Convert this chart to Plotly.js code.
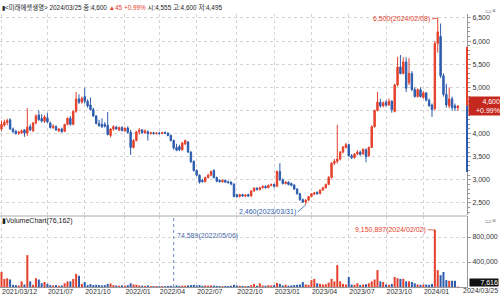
<!DOCTYPE html>
<html><head><meta charset="utf-8">
<script src="https://cdn.plot.ly/plotly-3.0.1.min.js"></script>
<style>html,body{margin:0;padding:0;background:#fff;}#chart{width:500px;height:297px;}</style>
</head><body><div id="chart"></div>
<script>
// weekly candles 2021/03/12 ... 2024/03/25
const openP = [4100,4180,4240,4300,4100,4050,4010,4020,4080,4010,4150,4060,4230,4400,4330,4270,4340,4230,4130,4150,
4060,4100,4050,4200,4330,4200,4480,4750,4680,4800,4700,4620,4520,4380,4220,4200,4200,4180,3960,4100,
4140,4080,4130,4060,4120,4030,3700,3850,4040,4080,4020,4040,4000,4020,4000,4010,4000,4020,4010,3960,
3850,3700,3720,3650,3780,3820,3600,3400,3200,3100,2990,2960,3050,3100,3200,3050,2990,2960,2990,2960,
2950,2910,2680,2640,2680,2650,2680,2650,2760,2820,2790,2830,2860,2830,2880,2900,2860,3180,3000,2920,
2950,2920,2890,2800,2700,2570,2520,2560,2640,2690,2730,2700,2780,2830,2900,3050,3360,3400,3450,3600,
3700,3760,3520,3480,3560,3600,3560,3650,3520,3700,4150,4500,4680,4600,4680,4620,4700,4480,5050,5440,
5300,5550,5100,5300,4950,4800,4950,4780,4880,4720,4620,4540,5950,6100,5250,4850,4600,4750,4600,4555];
const highP = [4280,4300,4320,4330,4130,4080,4060,4090,4100,4550,4200,4250,4420,4500,4420,4400,4450,4260,4200,4180,
4120,4130,4210,4350,4380,4500,4900,4850,4800,4990,4740,4780,4560,4400,4300,4330,4250,4470,4120,4180,
4170,4150,4160,4130,4160,4080,3880,4060,4120,4100,4090,4070,4040,4040,4030,4040,4040,4050,4030,3980,
3870,3780,3760,3820,3870,3840,3620,3420,3230,3120,3020,3070,3130,3200,3230,3070,3010,3010,3000,2980,
2970,2920,2700,2700,2700,2690,2700,2780,2840,2840,2850,2880,2880,2900,2920,2920,3200,3360,3030,2970,
2970,2940,2900,2820,2720,2600,2580,2650,2710,2740,2750,2790,2850,2920,3080,3380,3450,4190,3620,3730,
3800,3780,3560,3580,3640,3630,3680,3680,3720,4180,4520,4900,4750,4700,4720,4760,4720,5080,5660,5700,
5650,5650,5630,5350,5000,4980,5000,4920,4900,4760,4650,6000,6500,6380,5300,5080,5000,4800,4650,4600];
const lowP = [4050,4150,4180,4080,4020,3980,3970,3990,3930,3950,4050,4040,4200,4280,4240,4230,4230,4110,4100,4060,
4030,4020,4030,4180,4170,4180,4450,4640,4650,4650,4560,4500,4360,4200,4150,4120,4130,3960,3920,4060,
4080,4050,4060,4040,4000,3540,3680,3830,3980,3990,4000,3850,3980,3980,3980,3980,3990,3990,3940,3830,
3650,3620,3620,3630,3750,3580,3370,3180,3080,2920,2940,2950,3030,3080,3030,2950,2940,2940,2930,2920,
2880,2620,2610,2620,2630,2620,2630,2640,2740,2770,2770,2810,2810,2820,2860,2830,2850,2980,2900,2900,
2880,2860,2780,2680,2550,2500,2460,2540,2620,2670,2680,2690,2760,2810,2890,3030,3320,3350,3420,3570,
3680,3500,3450,3460,3530,3520,3540,3380,3500,3690,4130,4480,4560,4570,4580,4600,4450,4460,5020,5280,
5280,4900,5050,4920,4780,4780,4780,4760,4700,4580,4360,4500,5750,5200,4800,4560,4550,4500,4490,4495];
const closeP = [4200,4250,4280,4100,4040,4000,4030,4060,4010,4140,4080,4230,4380,4300,4270,4360,4250,4130,4160,4080,
4100,4040,4200,4330,4200,4480,4750,4680,4760,4700,4600,4520,4380,4220,4170,4150,4160,3980,4100,4150,
4100,4130,4060,4120,4030,3700,3850,4040,4080,4020,4060,4000,4020,4000,4010,4000,4020,4010,3960,3850,
3690,3640,3650,3800,3850,3600,3390,3200,3100,2950,2960,3050,3100,3180,3050,2970,2960,2990,2950,2940,
2910,2640,2640,2680,2650,2670,2650,2760,2820,2790,2830,2860,2830,2880,2900,2860,3180,3000,2920,2950,
2900,2880,2800,2700,2570,2520,2560,2640,2700,2720,2700,2780,2830,2900,3050,3360,3400,3450,3600,3710,
3760,3520,3480,3560,3600,3550,3660,3500,3700,4150,4500,4680,4600,4660,4620,4700,4520,5050,5440,5300,
5550,4980,5300,4950,4800,4950,4800,4880,4720,4600,4520,5950,6200,5250,4850,4620,4750,4560,4555,4600];
const volume = [2400000,1300000,1400000,1200000,350000,300000,250000,900000,400000,5100000,
900000,350000,1400000,1200000,600000,800000,500000,300000,250000,300000,
200000,250000,600000,900000,900000,1300000,2100000,1800000,500000,800000,
300000,450000,300000,350000,300000,250000,300000,500000,550000,300000,
250000,200000,250000,200000,300000,600000,400000,350000,250000,200000,
180000,250000,150000,140000,160000,130000,150000,120000,180000,200000,
74589,250000,180000,220000,200000,250000,300000,350000,250000,300000,
200000,250000,200000,250000,220000,180000,150000,140000,160000,150000,
200000,350000,250000,200000,180000,150000,160000,300000,500000,200000,
600000,250000,200000,300000,250000,300000,650000,500000,250000,350000,
200000,250000,300000,350000,400000,800000,400000,350000,1100000,1300000,
600000,500000,400000,450000,700000,1300000,900000,3500000,900000,500000,
400000,1600000,400000,350000,600000,300000,400000,450000,600000,900000,
1200000,2700000,900000,800000,400000,350000,500000,1600000,1400000,1300000,
1300000,900000,900000,800000,600000,400000,350000,400000,400000,350000,
500000,9150897,2700000,1900000,2400000,1100000,1000000,1000000,1000000,76162];
const tickIndex = [0,16,29,43,55,68,82,95,108,121,134,147];
const tickLabels = ['2021/03/12','2021/07','2021/10','2022/01','2022/04','2022/07','2022/10','2023/01','2023/04','2023/07','2023/10','2024/01'];
const lastDateLabel = '2024/03/25';
const priceTicks = [2500,3000,3500,4000,4500,5000,5500,6000,6500];
const volTickVals = [4000000,8000000];
const volTickText = ['400,000','800,000'];
const highDate = '2024/02/08', lowDate = '2023/03/31', volMaxDate = '2024/02/02', volMinDate = '2022/05/06';
const axisBandUp = [4600, 5870];
const axisBandDown = [3170, 4600];

const RED = '#e5402c', BLUE = '#2d5cae', GRID = '#d4d4d4', TXT = '#333';
const FONT = 'Liberation Sans, Noto Sans CJK KR, Arial, sans-serif';
const idx = openP.map((_, i) => i);
const volColors = closeP.map((c, i) => c >= openP[i] ? RED : BLUE);
const fmt = v => v.toLocaleString('en-US');

const iHigh = highP.indexOf(Math.max(...highP));
const iLow = lowP.indexOf(Math.min(...lowP));
const iVmax = volume.indexOf(Math.max(...volume));
const iVmin = volume.indexOf(Math.min(...volume));
const last = closeP.length - 1;

const traces = [
  {type:'candlestick', x:idx, open:openP, high:highP, low:lowP, close:closeP,
   xaxis:'x', yaxis:'y2', whiskerwidth:0, hoverinfo:'skip',
   increasing:{line:{color:RED, width:1}, fillcolor:RED},
   decreasing:{line:{color:BLUE, width:1}, fillcolor:BLUE}},
  {type:'bar', x:idx, y:volume, xaxis:'x', yaxis:'y', width:0.7,
   marker:{color:volColors, line:{width:0}}, hoverinfo:'skip'}
];

const ph = 287; // plot height px
const p = px => (ph - px) / ph;

const layout = {
  width:500, height:297, margin:{l:0, r:33, t:0, b:10},
  paper_bgcolor:'#fff', plot_bgcolor:'#fff', showlegend:false,
  font:{family:FONT, size:7, color:TXT},
  xaxis:{range:[-0.52, 162.2], tickmode:'array', tickvals:tickIndex, ticktext:tickLabels,
    ticklabelposition:'outside right', ticklabelstandoff:-2, ticks:'', showgrid:true, gridcolor:GRID, griddash:'dot', gridwidth:1,
    showline:true, linecolor:'#999', linewidth:1, zeroline:false, rangeslider:{visible:false},
    tickfont:{size:7, color:TXT}, anchor:'y', fixedrange:true},
  yaxis:{domain:[0, p(216)], range:[0, 11360000], side:'right', tickmode:'array',
    tickvals:volTickVals, ticktext:volTickText, ticks:'outside', ticklen:3, tickcolor:'#999',
    showgrid:true, gridcolor:GRID, griddash:'dot', showline:true, linecolor:'#999', zeroline:false,
    tickfont:{size:7, color:TXT}, anchor:'x'},
  yaxis2:{domain:[p(215), p(14)], range:[2240, 6586], side:'right', tickmode:'array',
    tickvals:priceTicks, ticktext:priceTicks.map(v => v === closeP[last] - 100 ? '' : fmt(v)), ticks:'outside', ticklen:3, tickcolor:'#999',
    minor:{ticks:'outside', ticklen:2, dtick:100, tickcolor:'#999', showgrid:false},
    showgrid:true, gridcolor:GRID, griddash:'dot', showline:true, linecolor:'#999', zeroline:false,
    tickfont:{size:7, color:TXT}, anchor:'x'},
  shapes:[
    {type:'line', xref:'paper', yref:'paper', x0:0, x1:1, y0:p(216), y1:p(216), line:{color:'#aaa', width:1}},
    {type:'line', xref:'x', yref:'paper', x0:iVmin, x1:iVmin, y0:0, y1:p(217), line:{color:'#6a86c0', width:1, dash:'dot'}},
    {type:'line', xref:'paper', yref:'y2', x0:1, x1:1, y0:axisBandUp[0], y1:axisBandUp[1], line:{color:RED, width:2}},
    {type:'line', xref:'paper', yref:'y2', x0:1, x1:1, y0:axisBandDown[0], y1:axisBandDown[1], line:{color:BLUE, width:2}}
  ],
  annotations:[
    {xref:'paper', yref:'paper', x:0, y:p(7), xanchor:'left', yanchor:'middle', showarrow:false,
     font:{size:6.4, color:'#222'},
     text:'▮&lt;미래에셋생명&gt; 2024/03/25 종:4,600 <span style="color:'+RED+'">▲45 +0.99%</span> 시:4,555 고:4,600 저:4,495'},
    {xref:'x', yref:'y2', x:iHigh, y:highP[iHigh], ax:-6, ay:1, xanchor:'right', yanchor:'middle',
     showarrow:true, arrowhead:0, arrowwidth:0.8, arrowcolor:RED, font:{size:7, color:RED},
     text:fmt(highP[iHigh])+'('+highDate+')'},
    {xref:'x', yref:'y2', x:iLow, y:lowP[iLow], ax:-8, ay:7, xanchor:'right', yanchor:'middle',
     showarrow:true, arrowhead:0, arrowwidth:0.8, arrowcolor:BLUE, font:{size:7, color:BLUE},
     text:fmt(lowP[iLow])+'('+lowDate+')'},
    {xref:'x', yref:'paper', x:iVmin, y:p(236), xanchor:'left', yanchor:'middle', xshift:1, showarrow:false,
     font:{size:7, color:'#4a6aa8'}, text:fmt(volume[iVmin])+'('+volMinDate+')'},
    {xref:'x', yref:'y', x:iVmax, y:volume[iVmax], ax:-7, ay:0, xanchor:'right', yanchor:'middle',
     showarrow:true, arrowhead:0, arrowwidth:0.8, arrowcolor:RED, font:{size:7, color:RED},
     text:fmt(volume[iVmax])+'('+volMaxDate+')'},
    {xref:'paper', yref:'paper', x:0, y:p(221), xanchor:'left', yanchor:'middle', showarrow:false,
     font:{size:7, color:'#222'}, text:'▮VolumeChart(76,162)'},
    {xref:'paper', yref:'y2', x:1.002, y:closeP[last], xanchor:'left', yanchor:'middle', showarrow:false,
     bgcolor:'#c5281f', borderpad:1, align:'right', width:30, font:{size:7, color:'#fff'},
     text:fmt(closeP[last])+'<br>+0.99%'},
    {xref:'paper', yref:'y', x:1.004, y:volume[last], yshift:4, xanchor:'left', yanchor:'middle', showarrow:false,
     bgcolor:'#111', borderpad:0, align:'right', width:28, font:{size:7, color:'#fff'},
     text:fmt(Math.round(volume[last]/10))},
    {xref:'paper', yref:'paper', x:500/467, y:p(290), xanchor:'right', yanchor:'middle', showarrow:false,
     font:{size:7, color:TXT}, text:lastDateLabel},
    {xref:'paper', yref:'paper', x:498/467, y:p(10), xanchor:'right', yanchor:'middle', showarrow:false,
     font:{size:7, color:'#777'}, text:'▭×'},
    {xref:'paper', yref:'paper', x:498/467, y:p(220), xanchor:'right', yanchor:'middle', showarrow:false,
     font:{size:7, color:'#777'}, text:'▭×'}
  ]
};

Plotly.newPlot('chart', traces, layout, {staticPlot:true, displayModeBar:false});
</script></body></html>
